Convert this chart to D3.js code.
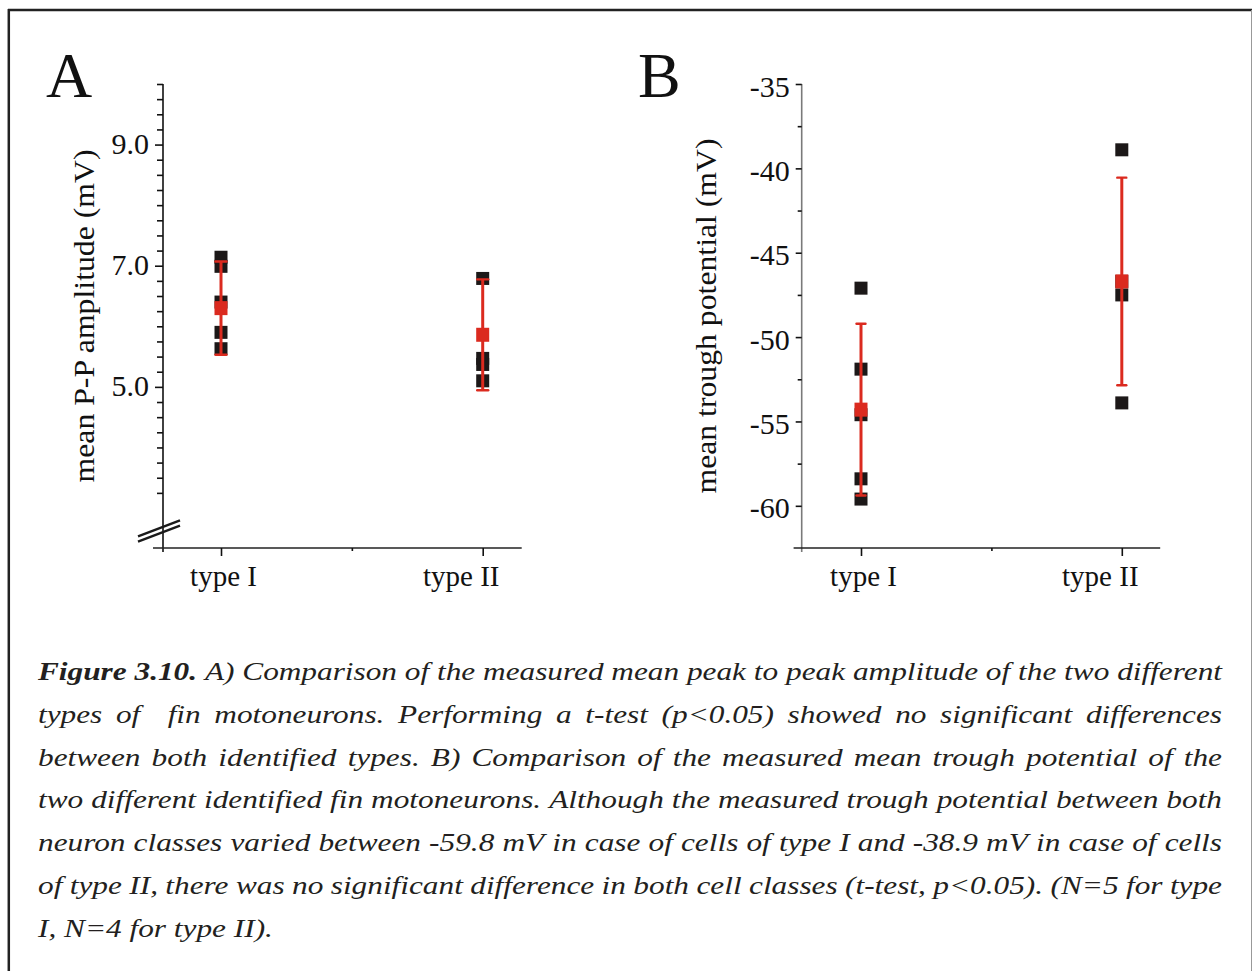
<!DOCTYPE html>
<html>
<head>
<meta charset="utf-8">
<script src="https://cdn.jsdelivr.net/npm/d3@7"></script>
<style>
body { margin: 0; background: #fff; }
svg { display: block; font-family: 'Liberation Serif', 'Times New Roman', serif; }
</style>
</head>
<body>
<div id="chart"></div>
<script>
// categories (x positions 1 and 3, tick in between at 2)
const categories = ['type I', 'type II']
const catPos = [1, 3]

// Panel A: mean P-P amplitude (mV)
const ampTypeI = [7.14, 6.99, 6.40, 5.90, 5.63]
const ampTypeII = [6.79, 5.47, 5.37, 5.10]
const ampMean = [6.30, 5.86]
const ampSD = [0.77, 0.915]
const ampTickLabels = [5, 7, 9]

// Panel B: mean trough potential (mV)
const troughTypeI = [-47.1, -51.9, -54.6, -58.4, -59.6]
const troughTypeII = [-38.9, -46.7, -47.5, -53.9]
const troughMean = [-54.3, -46.7]
const troughSD = [5.09, 6.15]
const troughTickLabels = [-35, -40, -45, -50, -55, -60]

const captionLines = [
    'Figure 3.10. A) Comparison of the measured mean peak to peak amplitude of the two different',
    'types of  fin motoneurons. Performing a t-test (p<0.05) showed no significant differences',
    'between both identified types. B) Comparison of the measured mean trough potential of the',
    'two different identified fin motoneurons. Although the measured trough potential between both',
    'neuron classes varied between -59.8 mV in case of cells of type I and -38.9 mV in case of cells',
    'of type II, there was no significant difference in both cell classes (t-test, p<0.05). (N=5 for type',
    'I, N=4 for type II).'
]

const red = '#db2a1f'
const black = '#1c1818'

const svg = d3.select('#chart')
    .append('svg')
    .attr('width', 1253)
    .attr('height', 971)

svg.append('rect').attr('width', 1253).attr('height', 971).attr('fill', '#fff')

// frame
svg.append('line').attr('x1', 8).attr('x2', 1252).attr('y1', 10).attr('y2', 10)
    .attr('stroke', '#222').attr('stroke-width', 2.5)
svg.append('line').attr('x1', 8.8).attr('x2', 8.8).attr('y1', 9).attr('y2', 971)
    .attr('stroke', '#222').attr('stroke-width', 2.5)
svg.append('line').attr('x1', 1251.5).attr('x2', 1251.5).attr('y1', 10).attr('y2', 971)
    .attr('stroke', '#999').attr('stroke-width', 1)

function drawPanel(p) {
    const g = svg.append('g')

    const y = d3.scaleLinear().domain(p.yDomain).range([548, 84])
    const x = d3.scaleLinear().domain([1, 3]).range(p.xRange)

    // y axis
    const yAxis = d3.axisLeft(y)
        .tickValues(p.yTicks)
        .tickSize(p.tickLen)
        .tickPadding(p.tickPad)
        .tickFormat(d => p.labels.includes(d) ? p.fmt(d) : '')

    const yg = g.append('g')
        .attr('transform', `translate(${p.axisX},0)`)
        .call(yAxis)
        .attr('font-size', null)
        .attr('font-family', null)

    yg.select('.domain')
        .attr('d', `M0,${y.range()[1]}V${y.range()[0] + 4}`)
        .attr('stroke', p.yAxisColor)
        .attr('stroke-width', 1.6)
    yg.selectAll('.tick line')
        .attr('stroke', '#111')
        .attr('stroke-width', 1.6)
        .attr('x2', d => p.labels.includes(d) ? -p.tickLen : -p.tickLen + 2)
    yg.selectAll('.tick text')
        .attr('font-size', 30)
        .attr('dy', p.labelDy)
        .attr('fill', '#111')

    // x axis
    const xAxis = d3.axisBottom(x)
        .tickValues([1, 2, 3])
        .tickSize(8)
        .tickFormat(d => {
            const i = catPos.indexOf(d)
            return i >= 0 ? categories[i] : ''
        })

    const xg = g.append('g')
        .attr('transform', `translate(0,${y.range()[0]})`)
        .call(xAxis)
        .attr('font-size', null)
        .attr('font-family', null)

    xg.select('.domain')
        .attr('d', `M${p.xLine[0]},0H${p.xLine[1]}`)
        .attr('stroke', '#222')
        .attr('stroke-width', 1.6)
    xg.selectAll('.tick line')
        .attr('stroke', '#111')
        .attr('stroke-width', 1.6)
        .attr('y2', d => d === 2 ? 3 : 8)
    xg.selectAll('.tick text')
        .attr('font-size', 29)
        .attr('y', 38)
        .attr('dy', 0)
        .attr('dx', d => d === 3 ? -22 : 2)
        .attr('fill', '#111')

    // individual cells
    p.values.forEach((vals, i) => {
        g.append('g')
            .selectAll('rect')
            .data(vals)
            .join('rect')
            .attr('x', x(catPos[i]) - 6.5)
            .attr('y', d => y(d) - 6.5)
            .attr('width', 13)
            .attr('height', 13)
            .attr('fill', black)
    })

    // mean +- sd
    const stats = p.mean.map((m, i) => ({ pos: catPos[i], m, sd: p.sd[i] }))
    const eg = g.append('g').attr('stroke', red).attr('stroke-width', 3)

    eg.selectAll('.bar')
        .data(stats)
        .join('line')
        .attr('class', 'bar')
        .attr('x1', d => x(d.pos)).attr('x2', d => x(d.pos))
        .attr('y1', d => y(d.m + d.sd)).attr('y2', d => y(d.m - d.sd))

    ;['hi', 'lo'].forEach(k => {
        eg.selectAll('.cap-' + k)
            .data(stats)
            .join('line')
            .attr('class', 'cap-' + k)
            .attr('stroke-width', 2.4)
            .attr('stroke-linecap', 'round')
            .attr('x1', d => x(d.pos) - p.capW / 2).attr('x2', d => x(d.pos) + p.capW / 2)
            .attr('y1', d => y(k === 'hi' ? d.m + d.sd : d.m - d.sd))
            .attr('y2', d => y(k === 'hi' ? d.m + d.sd : d.m - d.sd))
    })

    g.append('g')
        .selectAll('rect')
        .data(stats)
        .join('rect')
        .attr('x', d => x(d.pos) - 6.5)
        .attr('y', d => y(d.m) - 7)
        .attr('width', 13)
        .attr('height', 14)
        .attr('fill', red)

    // axis title
    g.append('text')
        .attr('transform', `translate(${p.titleX},316) rotate(-90)`)
        .attr('text-anchor', 'middle')
        .attr('font-size', 30)
        .attr('textLength', p.titleLen)
        .attr('lengthAdjust', 'spacingAndGlyphs')
        .attr('fill', '#111')
        .text(p.title)

    // panel letter
    g.append('text')
        .attr('x', p.letterX)
        .attr('y', 97)
        .attr('font-size', 64)
        .attr('fill', '#111')
        .text(p.letter)

    return { g, x, y }
}

const panelA = drawPanel({
    yDomain: [2.34, 10],
    xRange: [221, 482.7],
    axisX: 163,
    xLine: [153, 521.7],
    yTicks: d3.range(3.25, 10.01, 0.25),
    labels: ampTickLabels,
    fmt: d3.format('.1f'),
    tickLen: 8,
    tickPad: 6,
    labelDy: '0.3em',
    yAxisColor: '#111',
    values: [ampTypeI, ampTypeII],
    mean: ampMean,
    sd: ampSD,
    capW: 11,
    title: 'mean P-P amplitude (mV)',
    titleX: 94,
    titleLen: 333,
    letter: 'A',
    letterX: 46
})

// axis break on panel A
const brk = panelA.y(2.62)
;[-2.6, 2.6].forEach(off => {
    panelA.g.append('line')
        .attr('x1', 138).attr('x2', 180)
        .attr('y1', brk + off + 8).attr('y2', brk + off - 8)
        .attr('stroke', '#1a1a1a')
        .attr('stroke-width', 2.4)
})

drawPanel({
    yDomain: [-62.5, -35],
    xRange: [861, 1121.8],
    axisX: 801.7,
    xLine: [793.6, 1160.2],
    yTicks: d3.range(-60, -34.9, 2.5),
    labels: troughTickLabels,
    fmt: d => String(d),
    tickLen: 6,
    tickPad: 6,
    labelDy: '0.4em',
    yAxisColor: '#7a7a7a',
    values: [troughTypeI, troughTypeII],
    mean: troughMean,
    sd: troughSD,
    capW: 9,
    title: 'mean trough potential (mV)',
    titleX: 716,
    titleLen: 355,
    letter: 'B',
    letterX: 638
})

// caption, justified between x=38 and x=1222
const capFont = 25
const capLeft = 38
const cap = svg.append('g')
    .attr('font-size', capFont)
    .attr('font-style', 'italic')
    .attr('fill', '#231f20')

// horizontal stretch taken from the last (unjustified) line, 235px wide
const probe = cap.append('text').text(captionLines[captionLines.length - 1])
const sx = 235 / probe.node().getComputedTextLength()
probe.remove()
cap.attr('transform', `translate(${capLeft},0) scale(${sx},1)`)
const capWidth = 1184 / sx

captionLines.forEach((line, li) => {
    const words = line.split(' ')
    const t = cap.append('text').attr('y', 680 + li * 42.8)
    const spans = words.map((w, wi) => t.append('tspan')
        .attr('font-weight', li === 0 && wi < 2 ? 'bold' : null)
        .text(w))
    const widths = spans.map(s => s.node().getComputedTextLength())
    const total = d3.sum(widths)
    const last = li === captionLines.length - 1
    const gap = last ? capFont * 0.25 : (capWidth - total) / (words.length - 1)
    let cx = 0
    spans.forEach((s, i) => {
        s.attr('x', cx)
        cx += widths[i] + gap
    })
})
</script>
</body>
</html>
